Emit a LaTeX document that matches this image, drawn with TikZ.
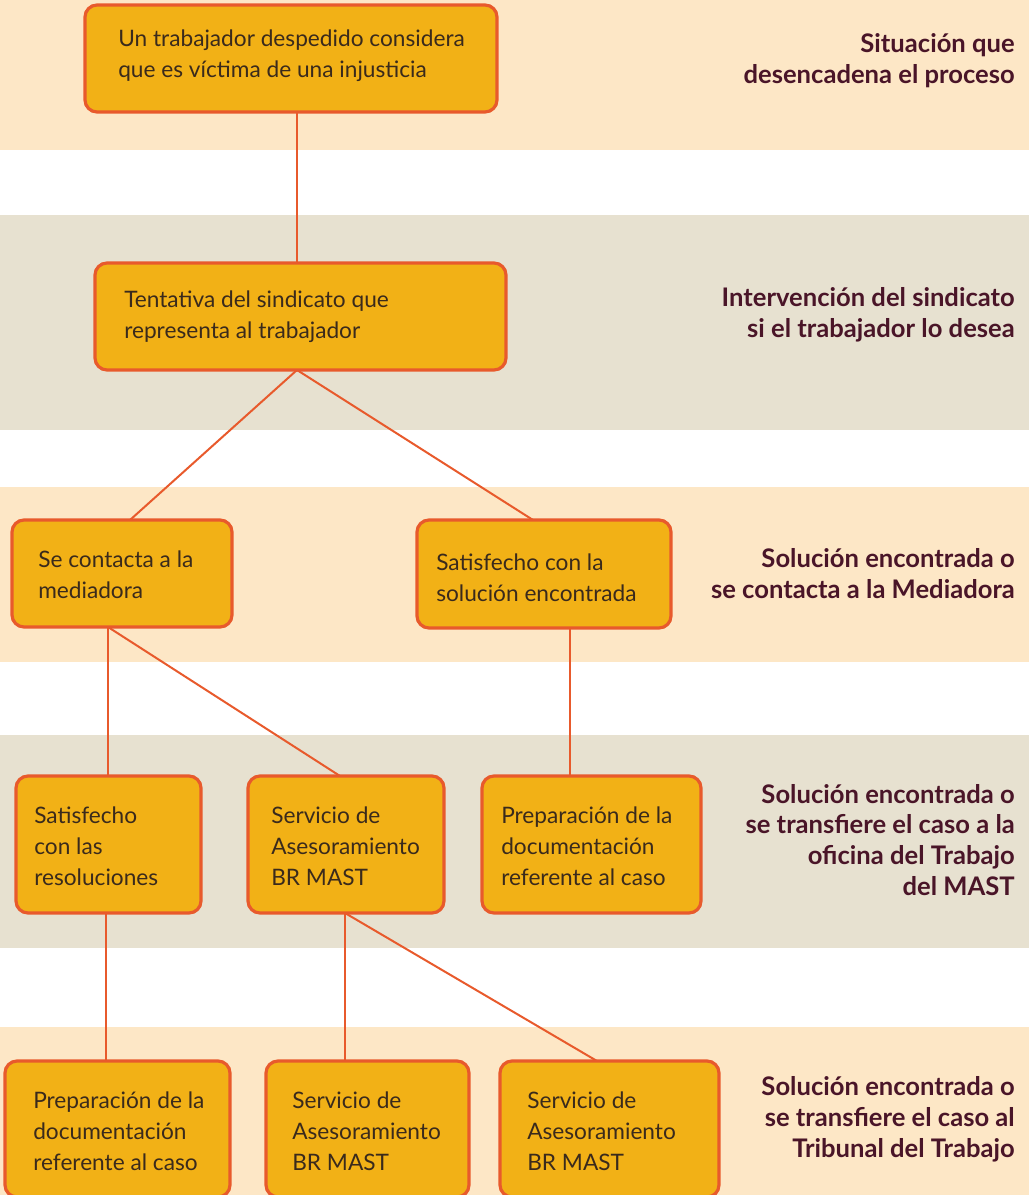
\documentclass[tikz,border=0pt]{standalone}
\usepackage{fontspec}
\setmainfont{Lato}
\usetikzlibrary{backgrounds}
\definecolor{peach}{HTML}{FDE7C6}
\definecolor{beige}{HTML}{E7E1D0}
\definecolor{boxfill}{HTML}{F2B116}
\definecolor{boxline}{HTML}{E85A2C}
\definecolor{boxtext}{HTML}{3A2A1C}
\definecolor{labtext}{HTML}{4A1528}
\tikzset{
  stepbox/.style={draw=boxline, fill=boxfill, line width=2.4pt, rounded corners=9pt, inner sep=0pt, outer sep=0pt},
  boxtxt/.style={anchor=west, align=left, inner sep=0pt, text=boxtext, font=\fontsize{17pt}{23.2pt}\selectfont},
  labtxt/.style={anchor=east, align=right, inner sep=0pt, text=labtext, font=\fontsize{19.2pt}{23.2pt}\selectfont\bfseries},
  conn/.style={draw=boxline, line width=1.5pt}
}
\newcommand{\mkbox}[5]{% name, x1, y1, x2, y2
  \node[stepbox, minimum width={(#4-#2)*0.75pt}, minimum height={(#5-#3)*0.75pt}] (#1) at ({(#2+#4)/2},{(#3+#5)/2}) {};}
\begin{document}
\begin{tikzpicture}[x=0.75pt, y=-0.75pt]
\useasboundingbox (0,0) rectangle (1029,1195);
\clip (0,0) rectangle (1029,1195);
% bands
\begin{scope}[on background layer]
\fill[peach] (0,0) rectangle (1029,150);
\fill[beige] (0,215) rectangle (1029,430);
\fill[peach] (0,487) rectangle (1029,662);
\fill[beige] (0,735) rectangle (1029,948);
\fill[peach] (0,1027) rectangle (1029,1195);
\end{scope}
% boxes
\mkbox{b1}{85}{5}{497}{112}
\mkbox{b2}{95}{263}{506}{370}
\mkbox{b3}{12}{520}{232}{627}
\mkbox{b4}{417}{520}{671}{628}
\mkbox{b5}{16}{776}{201}{913}
\mkbox{b6}{248}{776}{444}{913}
\mkbox{b7}{482}{776}{701}{913}
\mkbox{b8}{5}{1061}{230}{1197}
\mkbox{b9}{266}{1061}{469}{1197}
\mkbox{b10}{500}{1061}{719}{1197}
% box texts
\node[boxtxt] (t1) at (118,56) {Un trabajador despedido considera\\que es víctima de una injusticia};
\node[boxtxt] (t2) at (124,317) {Tentativa del sindicato que\\representa al trabajador};
\node[boxtxt] (t3) at (38,575) {Se contacta a la\\mediadora};
\node[boxtxt] (t4) at (436,578) {Satisfecho con la\\solución encontrada};
\node[boxtxt] (t5) at (34,846) {Satisfecho\\con las\\resoluciones};
\node[boxtxt] (t6) at (271,846) {Servicio de\\Asesoramiento\\BR MAST};
\node[boxtxt] (t7) at (501,846) {Preparación de la\\documentación\\referente al caso};
\node[boxtxt] (t8) at (33,1131) {Preparación de la\\documentación\\referente al caso};
\node[boxtxt] (t9) at (292,1131) {Servicio de\\Asesoramiento\\BR MAST};
\node[boxtxt] (t10) at (527,1131) {Servicio de\\Asesoramiento\\BR MAST};
% labels
\node[labtxt] (l1) at (1015,61) {Situación que\\desencadena el proceso};
\node[labtxt] (l2) at (1015,315) {Intervención del sindicato\\si el trabajador lo desea};
\node[labtxt] (l3) at (1015,574) {Solución encontrada o\\se contacta a la Mediadora};
\node[labtxt] (l4) at (1015,840) {Solución encontrada o\\se transfiere el caso a la\\oficina del Trabajo\\del MAST};
\node[labtxt] (l5) at (1015,1119) {Solución encontrada o\\se transfiere el caso al\\Tribunal del Trabajo};
% connectors
\begin{scope}[on background layer]
\draw[conn] (b1.south -| 297,0) -- (b2.north -| 297,0);
\draw[conn] (b2.south -| 297,0) -- (b3.north -| 130,0);
\draw[conn] (b2.south -| 297,0) -- (b4.north -| 533,0);
\draw[conn] (b3.south -| 108,0) -- (b5.north -| 108,0);
\draw[conn] (b3.south -| 108,0) -- (b6.north -| 340,0);
\draw[conn] (b4.south -| 570,0) -- (b7.north -| 570,0);
\draw[conn] (b5.south -| 106,0) -- (b8.north -| 106,0);
\draw[conn] (b6.south -| 345,0) -- (b9.north -| 345,0);
\draw[conn] (b6.south -| 345,0) -- (b10.north -| 597,0);
\end{scope}
\end{tikzpicture}
\end{document}
